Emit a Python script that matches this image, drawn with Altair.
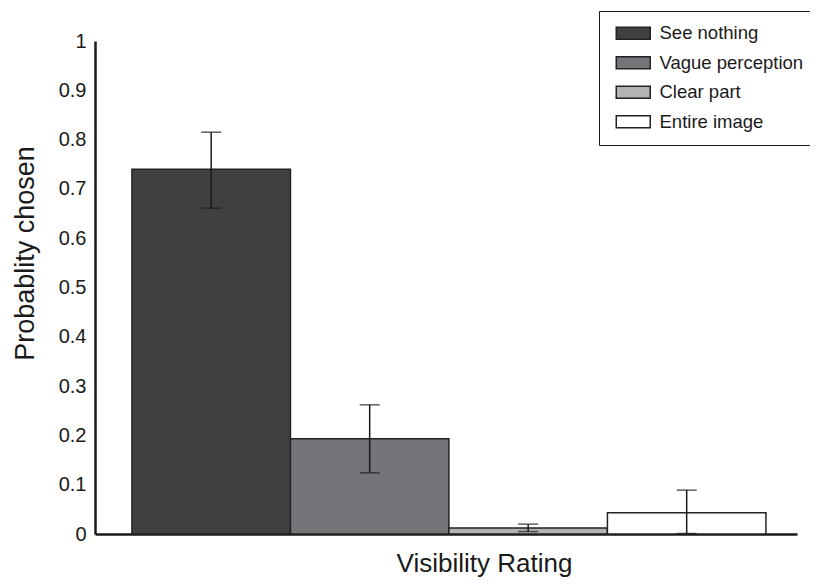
import altair as alt
import pandas as pd

categories = ["See nothing", "Vague perception", "Clear part", "Entire image"]
values = [0.740, 0.193, 0.012, 0.043]
err_low = [0.661, 0.124, 0.005, 0.001]
err_high = [0.815, 0.262, 0.020, 0.089]
colors = ["#404040", "#747578", "#b3b3b3", "#ffffff"]

df = pd.DataFrame({
    "cat": categories,
    "idx": list(range(len(categories))),
    "value": values,
    "lo": err_low,
    "hi": err_high,
})

FONT = "Liberation Sans"

base = alt.Chart(df).transform_calculate(
    x0="datum.idx", x1="datum.idx + 1", xc="datum.idx + 0.5", base0="0"
)

xscale = alt.Scale(domain=[-0.233, 4.196], nice=False, zero=False)
yscale = alt.Scale(domain=[0, 1], nice=False)

bars = base.mark_bar(stroke="#222222", strokeWidth=1.5).encode(
    x=alt.X("x0:Q", scale=xscale,
            axis=alt.Axis(title="Visibility Rating", labels=False, ticks=False, grid=False,
                          domainColor="#1a1a1a", domainWidth=2.5,
                          titleFontSize=26, titleFont=FONT, titleFontWeight="normal",
                          titleColor="#1a1a1a", titlePadding=16, titleX=389)),
    x2="x1:Q",
    y=alt.Y("value:Q", scale=yscale,
            axis=alt.Axis(title="Probablity chosen", values=[i / 10 for i in range(11)],
                          format="~g", ticks=False, grid=False,
                          domainColor="#1a1a1a", domainWidth=2.5,
                          labelFontSize=20, labelFont=FONT, labelColor="#1a1a1a",
                          labelPadding=9,
                          titleFontSize=27, titleFont=FONT, titleFontWeight="normal",
                          titleColor="#1a1a1a", titlePadding=19, titleY=212)),
    y2="base0:Q",
    color=alt.Color("cat:N", scale=alt.Scale(domain=categories, range=colors),
                    sort=categories,
                    legend=alt.Legend(title=None, orient="none", legendX=504, legendY=-30,
                                      symbolType="M-0.833,-1L4.833,-1L4.833,1L-0.833,1Z",
                                      symbolSize=144, symbolStrokeColor="#222222",
                                      symbolStrokeWidth=1.5, symbolOpacity=1,
                                      labelFont=FONT, labelFontSize=18.5, labelColor="#1a1a1a",
                                      labelOffset=29, rowPadding=10.5,
                                      strokeColor="#1a1a1a", padding=13, fillColor="white")),
)

rules = base.mark_rule(color="#1a1a1a", strokeWidth=1.5).encode(
    x="xc:Q", y="lo:Q", y2="hi:Q"
)
caps_hi = base.mark_tick(orient="horizontal", size=20, thickness=1.5, color="#1a1a1a").encode(
    x="xc:Q", y="hi:Q"
)
caps_lo = base.mark_tick(orient="horizontal", size=20, thickness=1.5, color="#1a1a1a").encode(
    x="xc:Q", y="lo:Q"
)

chart = alt.layer(bars, rules, caps_hi, caps_lo).properties(
    width=702, height=493,
    autosize=alt.AutoSizeParams(type="none"),
    padding={"left": 87, "top": 33, "right": 13, "bottom": 45},
).configure(background="white", view=alt.ViewConfig(stroke=None))

chart.save("out.html", embed_options={"renderer": "svg", "actions": False})
